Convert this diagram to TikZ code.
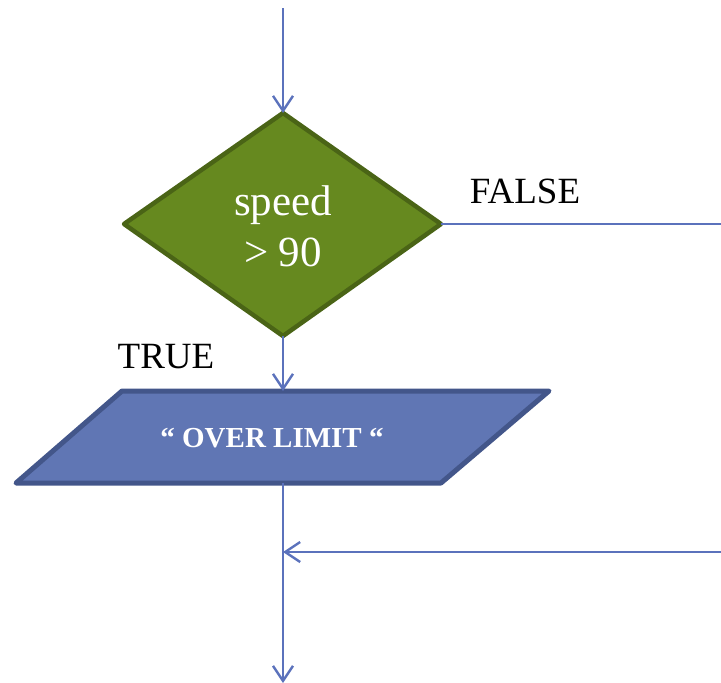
\documentclass[tikz,border=0pt]{standalone}
\usepackage{fontspec}
\setmainfont{Liberation Serif}
\usetikzlibrary{arrows.meta}
\definecolor{flowline}{RGB}{91,114,188}
\definecolor{decfill}{RGB}{102,137,31}
\definecolor{decedge}{RGB}{74,100,22}
\definecolor{iofill}{RGB}{96,118,180}
\definecolor{ioedge}{RGB}{67,86,138}
\tikzset{
  flow/.style={draw=flowline, line width=2.4pt, -{Straight Barb[length=15pt,width=20pt,line width=2.4pt]}},
  plainflow/.style={draw=flowline, line width=2.4pt},
  decshape/.style={fill=decfill, draw=decedge, line width=4.5pt, line join=round},
  ioshape/.style={fill=iofill, draw=ioedge, line width=5pt, line join=round},
  lbl/.style={font=\fontsize{37}{40}\selectfont, text=black, inner sep=0pt},
}
\begin{document}
\begin{tikzpicture}[x=1pt, y=-1pt]
  \useasboundingbox (0,0) rectangle (721,683);

  % decision diamond
  \coordinate (dT) at (283,113);
  \coordinate (dL) at (124,224);
  \coordinate (dR) at (441,224);
  \coordinate (dB) at (283,336);
  \path[decshape] (dT) -- (dR) -- (dB) -- (dL) -- cycle;
  \node[text=white, align=center, inner sep=0pt, font=\fontsize{43}{51}\selectfont] (dec) at (283,226) {speed\\> 90};

  % output parallelogram
  \coordinate (pTL) at (122,391);
  \coordinate (pTR) at (549,391);
  \coordinate (pBR) at (441,483);
  \coordinate (pBL) at (16,483);
  \coordinate (pT) at (283,391);
  \coordinate (pB) at (283,483);
  \path[ioshape] (pTL) -- (pTR) -- (pBR) -- (pBL) -- cycle;
  \node[text=white, inner sep=0pt, font=\bfseries\fontsize{29}{32}\selectfont] (out) at (272,438) {“ OVER LIMIT “};

  % connectors
  \coordinate (entry) at (283,8);
  \coordinate (falseEnd) at (721,224);
  \coordinate (joinStart) at (721,552);
  \coordinate (join) at (283,552);
  \coordinate (exit) at (283,683);

  \draw[flow] (entry) -- (dT);
  \draw[flow] (dB) -- (pT);
  \draw[plainflow] (dR) -- (falseEnd);
  \draw[flow] (pB) -- (exit);
  \draw[flow] (joinStart) -- (join);

  % branch labels
  \node[lbl] (tlabel) at (166,357) {TRUE};
  \node[lbl] (flabel) at (525,191) {FALSE};
\end{tikzpicture}
\end{document}
